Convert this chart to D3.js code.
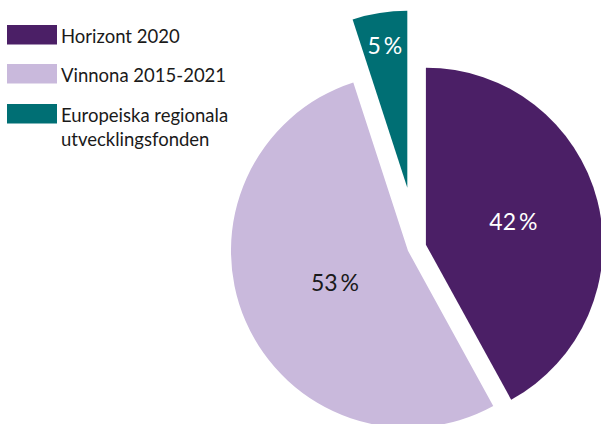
<!DOCTYPE html>
<html>
<head>
<meta charset="utf-8">
<script src="https://cdn.jsdelivr.net/npm/d3@7"></script>
<style>
  body { margin: 0; background: #fff; }
  text { font-family: Lato, "Open Sans", sans-serif; }
</style>
</head>
<body>
<svg width="601" height="424"></svg>
<script>
// data
var categories = ["Horizont 2020", "Vinnona 2015-2021", "Europeiska regionala utvecklingsfonden"]
var shares = [42, 53, 5]
var colors = ["#4b1f66", "#c9b9dc", "#006f74"]
var labelColors = ["#ffffff", "#1a1a1a", "#ffffff"]

var svg = d3.select("svg"),
  cx = 416.7,
  cy = 247,
  r = 177

var explode = [9.5, 9.5, 60] // how far each slice is pulled out

var pie = d3.pie().sort(null).value(function(d) { return d.value })
var slices = pie(categories.map(function(c, i) {
  return { name: c, value: shares[i], i: i }
}))

var arc = d3.arc().innerRadius(0).outerRadius(r)

var g = svg.append("g")
  .attr("transform", "translate(" + cx + "," + cy + ")")

var s = g.selectAll(".slice")
  .data(slices)
  .enter().append("g")
  .attr("class", "slice")
  .attr("transform", function(d) {
    var a = (d.startAngle + d.endAngle) / 2
    var k = explode[d.data.i]
    return "translate(" + (Math.sin(a) * k) + "," + (-Math.cos(a) * k) + ")"
  })

s.append("path")
  .attr("d", arc)
  .attr("fill", function(d) { return colors[d.data.i] })

s.append("text")
  .attr("transform", function(d) {
    var a = (d.startAngle + d.endAngle) / 2
    // small slice gets its label further out
    var lr = (d.endAngle - d.startAngle) < 0.5 ? 0.81 * r : (d.data.i == 0 ? 0.51 * r : 0.45 * r)
    return "translate(" + (Math.sin(a) * lr) + "," + (-Math.cos(a) * lr) + ")"
  })
  .attr("text-anchor", "middle")
  .attr("dy", "0.36em")
  .attr("font-size", "23px")
  .attr("fill", function(d) { return labelColors[d.data.i] })
  .text(function(d) { return d.data.value + "\u2009%" })

// legend
var legend = svg.append("g")
var legY = [25, 64, 104]
categories.forEach(function(c, i) {
  var row = legend.append("g").attr("transform", "translate(7," + legY[i] + ")")
  row.append("rect")
    .attr("width", 50)
    .attr("height", 19.5)
    .attr("fill", colors[i])
  var words = i == 2 ? ["Europeiska regionala", "utvecklingsfonden"] : [c]
  var t = row.append("text")
    .attr("x", 54)
    .attr("y", 18)
    .attr("font-size", "18.5px")
    .attr("fill", "#1a1a1a")
  words.forEach(function(w, j) {
    t.append("tspan").attr("x", 54).attr("dy", j == 0 ? 0 : 24).text(w)
  })
})
</script>
</body>
</html>
